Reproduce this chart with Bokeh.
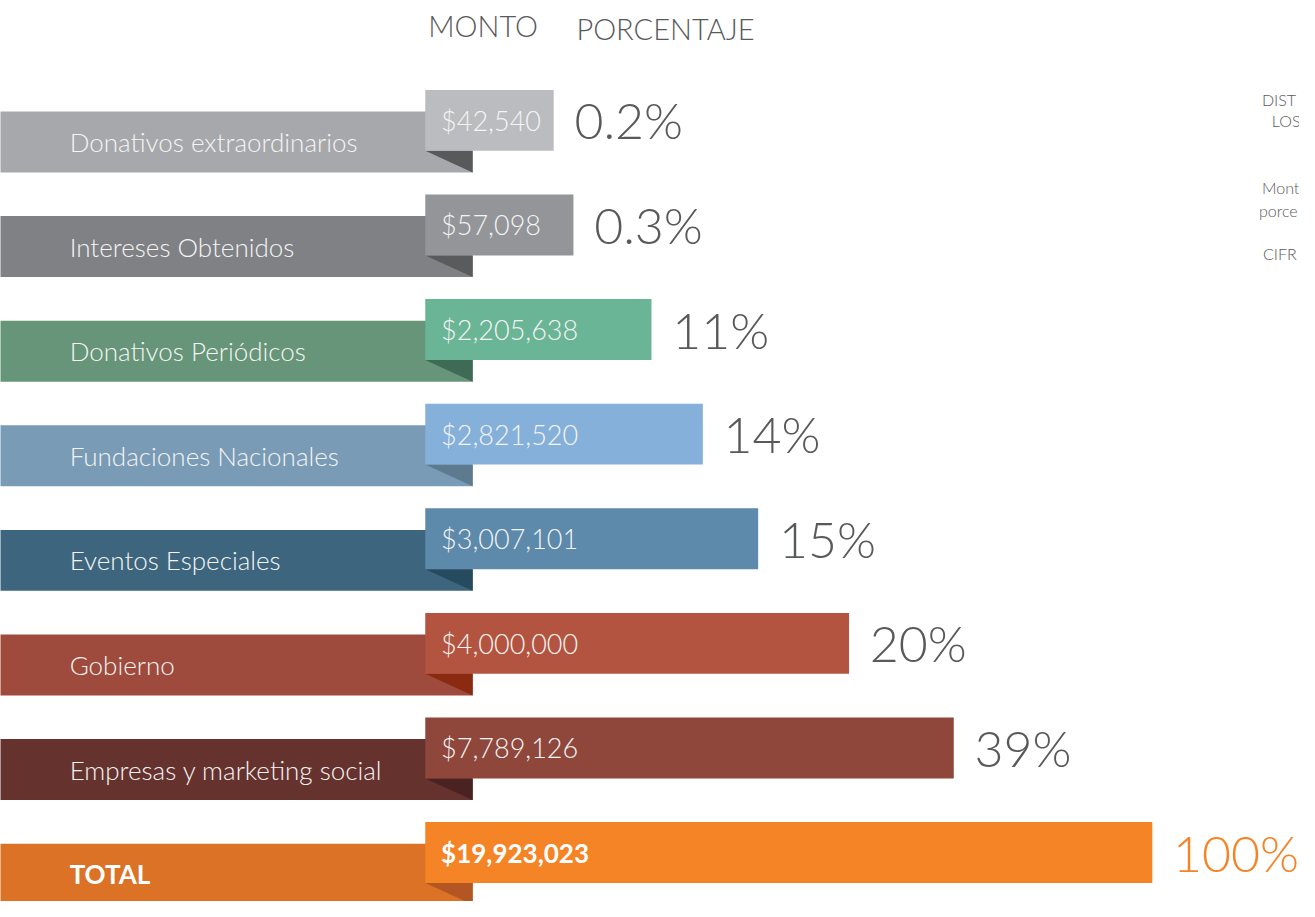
from bokeh.plotting import figure
from bokeh.models import Range1d, ColumnDataSource, CDSView, IndexFilter
from bokeh.core.properties import value
from bokeh.embed import file_html
from bokeh.resources import INLINE

# ---- data ----
categories = ["Donativos extraordinarios", "Intereses Obtenidos", "Donativos Periódicos",
              "Fundaciones Nacionales", "Eventos Especiales", "Gobierno",
              "Empresas y marketing social", "TOTAL"]
montos = [42540, 57098, 2205638, 2821520, 3007101, 4000000, 7789126, 19923023]
porcentajes = ["0.2%", "0.3%", "11%", "14%", "15%", "20%", "39%", "100%"]
# displayed bar lengths of the infographic (not proportional to amounts)
bar_length = [130, 150, 229, 281, 337, 429, 535, 736]
headers = ["MONTO", "PORCENTAJE"]
side_notes = ["DIST", "LOS", "Mont", "porce", "CIFR"]

# ---- styles ----
band_colors = ["#a7a8ab", "#808184", "#679579", "#7a9bb5", "#3d667e", "#9e4b3d", "#66322e", "#dc7226"]
bar_colors = ["#bbbcbf", "#939598", "#6ab596", "#85b0d9", "#5d89ab", "#b35440", "#8f473c", "#f58426"]
fold_colors = ["#58595b", "#5a5b5d", "#3f6b56", "#5d7a8f", "#264a5e", "#8a2a10", "#4b2222", "#b35623"]
pct_colors = ["#58595b"] * 7 + ["#f58426"]
FONT = "Lato Light"
GREY = "#58595b"

# ---- layout (reference pixel units, y downward -> negated) ----
n = len(categories)
first_top, step, band_h = 113, 106.45, 62
bar_x0, band_x1 = 430, 478
band_tops = [first_top + i * step for i in range(n)]

src = ColumnDataSource(dict(
    label=categories,
    monto_txt=["$" + format(m, ",") for m in montos],
    pct=porcentajes,
    band_left=[-10] * n,
    band_right=[band_x1] * n,
    band_top=[-t for t in band_tops],
    band_bottom=[-(t + band_h) for t in band_tops],
    bar_left=[bar_x0] * n,
    bar_right=[bar_x0 + L for L in bar_length],
    bar_top=[-(t - 22) for t in band_tops],
    bar_bottom=[-(t + 40) for t in band_tops],
    fold_xs=[[bar_x0, band_x1, band_x1] for _ in band_tops],
    fold_ys=[[-(t + 40), -(t + 40), -(t + band_h)] for t in band_tops],
    label_y=[-(t + 31) for t in band_tops],
    bar_y=[-(t + 9) for t in band_tops],
    pct_x=[bar_x0 + L + 21 for L in bar_length],
    band_c=band_colors, bar_c=bar_colors, fold_c=fold_colors, pct_c=pct_colors,
))

p = figure(width=1299, height=901, x_range=Range1d(0, 1315), y_range=Range1d(-917, 0),
           output_backend="svg", toolbar_location=None, min_border=0)
p.axis.visible = False
p.grid.visible = False
p.outline_line_color = None
p.background_fill_color = "white"

p.quad(left="band_left", right="band_right", top="band_top", bottom="band_bottom",
       fill_color="band_c", line_color=None, source=src)
p.patches(xs="fold_xs", ys="fold_ys", fill_color="fold_c", line_color=None, source=src)
p.quad(left="bar_left", right="bar_right", top="bar_top", bottom="bar_bottom",
       fill_color="bar_c", line_color=None, source=src)

v_rows = CDSView(filter=IndexFilter(list(range(n - 1))))
v_tot = CDSView(filter=IndexFilter([n - 1]))

p.text(x=70, y="label_y", text="label", source=src, view=v_rows, text_font=value(FONT),
       text_font_size="26px", text_color="#f4f4f4", text_baseline="middle")
p.text(x=70, y="label_y", text="label", source=src, view=v_tot, text_font=value("Lato"),
       text_font_style="bold", text_font_size="26px", text_color="white", text_baseline="middle")

p.text(x=446, y="bar_y", text="monto_txt", source=src, view=v_rows, text_font=value(FONT),
       text_font_size="27px", text_color="#f4f4f4", text_baseline="middle")
p.text(x=446, y="bar_y", text="monto_txt", source=src, view=v_tot, text_font=value("Lato"),
       text_font_style="bold", text_font_size="26px", text_color="white", text_baseline="middle")

p.text(x="pct_x", y="bar_y", text="pct", source=src, text_font=value(FONT),
       text_font_size="50px", text_color="pct_c", text_baseline="middle")

# headers
p.text(x=[433, 583], y=[-25, -28], text=headers, text_font=value(FONT),
       text_font_size="29px", text_color=GREY, text_baseline="middle")

# side notes, cut off at the right edge in the original
p.text(x=[1277, 1287, 1277, 1274, 1278], y=[-101, -122, -190, -214, -257], text=side_notes,
       text_font=value(FONT), text_font_size="16px", text_color=GREY, text_baseline="middle")

open("out.html", "w").write(file_html(p, INLINE))
